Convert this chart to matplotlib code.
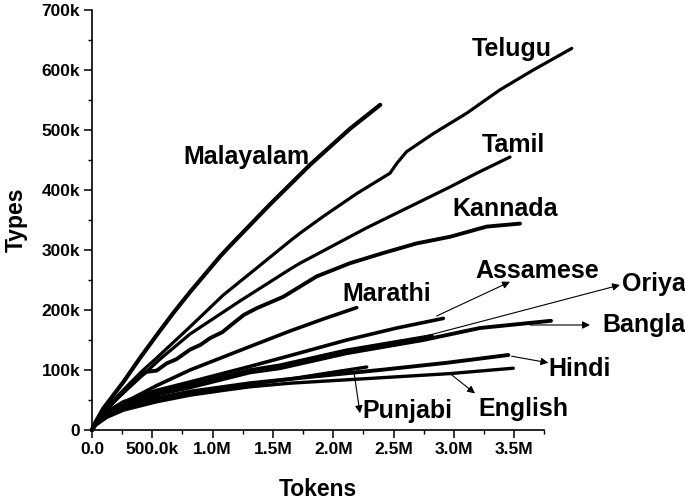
import matplotlib.pyplot as plt
from matplotlib.ticker import FuncFormatter, MultipleLocator

plt.rcParams['font.family'] = ['Liberation Sans', 'DejaVu Sans']
plt.rcParams['font.weight'] = 'bold'

# tokens in millions, types in thousands
malayalam_x = [0, 0.02, 0.094, 0.26, 0.398, 0.536, 0.674, 0.813, 1.061, 1.144, 1.476, 1.808, 2.139, 2.39]
malayalam_y = [0, 10, 36, 80, 120, 158, 195, 230, 289, 307, 376, 442, 502, 542]

telugu_x = [0, 0.03, 0.122, 0.315, 0.425, 0.536, 0.813, 1.089, 1.366, 1.642, 1.725, 1.918, 2.195,
            2.471, 2.53, 2.609, 2.830, 3.107, 3.383, 3.659, 3.978]
telugu_y = [0, 12, 38, 78, 100, 120, 172, 225, 270, 315, 328, 356, 394,
            428, 445, 464, 494, 528, 567, 600, 636]

tamil_x = [0, 0.03, 0.108, 0.315, 0.564, 0.813, 1.227, 1.642, 1.725, 2.278, 2.968, 3.190, 3.466]
tamil_y = [0, 12, 33, 72, 118, 160, 215, 268, 278, 337, 405, 428, 455]

kannada_x = [0, 0.03, 0.066, 0.232, 0.398, 0.454, 0.536, 0.619, 0.70, 0.813, 0.90, 0.978, 1.08,
             1.172, 1.26, 1.366, 1.586, 1.863, 2.139, 2.415, 2.692, 2.968, 3.273, 3.549]
kannada_y = [0, 12, 22, 58, 90, 97, 99, 111, 118, 134, 142, 153, 163,
             178, 192, 203, 222, 256, 278, 295, 311, 322, 339, 344]

marathi_x = [0, 0.03, 0.122, 0.26, 0.536, 0.813, 1.27, 1.642, 1.918, 2.195]
marathi_y = [0, 10, 26, 45, 74, 100, 136, 165, 185, 204]

assamese_x = [0, 0.03, 0.122, 0.26, 0.536, 0.813, 1.31, 1.642, 2.112, 2.527, 2.913]
assamese_y = [0, 11, 30, 47, 66, 80, 106, 124, 150, 170, 186]

oriya_x = [0, 0.03, 0.122, 0.26, 0.536, 0.813, 1.31, 1.559, 2.112, 2.819]
oriya_y = [0, 10, 27, 43, 62, 75, 100, 108, 133, 157]

bangla_x = [0, 0.03, 0.122, 0.26, 0.536, 0.813, 1.31, 1.559, 2.112, 2.747, 3.217, 3.806]
bangla_y = [0, 10, 26, 41, 59, 71, 96, 103, 128, 150, 170, 182]

hindi_x = [0, 0.03, 0.122, 0.26, 0.536, 0.813, 1.31, 1.642, 1.835, 2.388, 2.941, 3.452]
hindi_y = [0, 9, 24, 38, 53, 64, 78, 85, 89, 100, 112, 125]

punjabi_x = [0, 0.03, 0.122, 0.26, 0.536, 0.813, 1.31, 1.642, 1.891, 2.278]
punjabi_y = [0, 9, 23, 37, 52, 62, 76, 85, 93, 105]

english_x = [0, 0.03, 0.122, 0.26, 0.536, 0.813, 1.089, 1.31, 1.642, 2.388, 2.968, 3.493]
english_y = [0, 8, 21, 33, 47, 58, 66, 72, 78, 87, 94, 103]

series = [
    (malayalam_x, malayalam_y, 3.0),
    (telugu_x, telugu_y, 2.3),
    (tamil_x, tamil_y, 2.3),
    (kannada_x, kannada_y, 2.8),
    (marathi_x, marathi_y, 2.6),
    (assamese_x, assamese_y, 2.6),
    (oriya_x, oriya_y, 2.6),
    (bangla_x, bangla_y, 2.8),
    (hindi_x, hindi_y, 2.8),
    (punjabi_x, punjabi_y, 2.4),
    (english_x, english_y, 2.4),
]

# label text, position (M, k)
labels = [
    ("Malayalam", 0.755, 443), ("Telugu", 3.151, 623), ("Tamil", 3.234, 464),
    ("Kannada", 2.985, 357), ("Marathi", 2.073, 215), ("Assamese", 3.176, 253),
    ("Oriya", 4.395, 232), ("Bangla", 4.229, 163), ("Hindi", 3.781, 90.5),
    ("English", 3.201, 24), ("Punjabi", 2.239, 20),
]

# arrows: tail -> head
arrows = [
    ((2.858, 190), (3.466, 247)),
    ((2.747, 155.5), (4.378, 241.7)),
    ((3.632, 175), (4.129, 175)),
    ((3.480, 123), (3.784, 112)),
    ((2.983, 91.7), (3.176, 61)),
    ((2.172, 97), (2.222, 28)),
]

fig = plt.figure(figsize=(6.85, 5.0), dpi=100)
ax = fig.add_axes([92 / 685, 70 / 500, 593 / 685, 420 / 500])

for xs, ys, lw in series:
    ax.plot([v * 1e6 for v in xs], [v * 1e3 for v in ys], color="black", lw=lw,
            solid_capstyle="round", solid_joinstyle="round", clip_on=False)

for txt, lx, ly in labels:
    ax.text(lx * 1e6, ly * 1e3, txt, fontsize=18, fontweight="bold", ha="left", va="baseline")

for (tx, ty), (hx, hy) in arrows:
    ax.annotate("", xy=(hx * 1e6, hy * 1e3), xytext=(tx * 1e6, ty * 1e3),
                arrowprops=dict(arrowstyle="-|>", color="black", lw=0.8, mutation_scale=11,
                                shrinkA=0, shrinkB=0), annotation_clip=False)

ax.set_xlim(0, 593 / 120.6 * 1e6)
ax.set_ylim(0, 700e3)
ax.spines["top"].set_visible(False)
ax.spines["right"].set_visible(False)
ax.spines["bottom"].set_bounds(0, 3.75e6)
ax.spines["left"].set_bounds(0, 700e3)
for s in ("bottom", "left"):
    ax.spines[s].set_linewidth(1.2)

ax.set_xticks([i * 0.5e6 for i in range(8)])
ax.set_xticks([i * 0.25e6 for i in range(16)], minor=True)
ax.yaxis.set_major_locator(MultipleLocator(100e3))
ax.yaxis.set_minor_locator(MultipleLocator(50e3))


def fmt_x(v, pos):
    if v == 0:
        return "0.0"
    if v < 1e6:
        return "%.1fk" % (v / 1e3)
    return "%.1fM" % (v / 1e6)


def fmt_y(v, pos):
    if v == 0:
        return "0"
    return "%dk" % round(v / 1e3)


ax.xaxis.set_major_formatter(FuncFormatter(fmt_x))
ax.yaxis.set_major_formatter(FuncFormatter(fmt_y))
ax.tick_params(which="major", direction="out", length=5.5, width=1.1, labelsize=12.5, pad=3)
ax.tick_params(which="minor", direction="out", length=3, width=1.0)
for lab in ax.get_xticklabels() + ax.get_yticklabels():
    lab.set_fontweight("bold")

fig.text(318 / 685, 1 - 489 / 500, "Tokens", fontsize=16.5, fontweight="bold", ha="center", va="center")
fig.text(16 / 685, 1 - 220 / 500, "Types", fontsize=16.5, fontweight="bold", ha="center", va="center",
         rotation=90)

fig.savefig("out.png", dpi=100)
